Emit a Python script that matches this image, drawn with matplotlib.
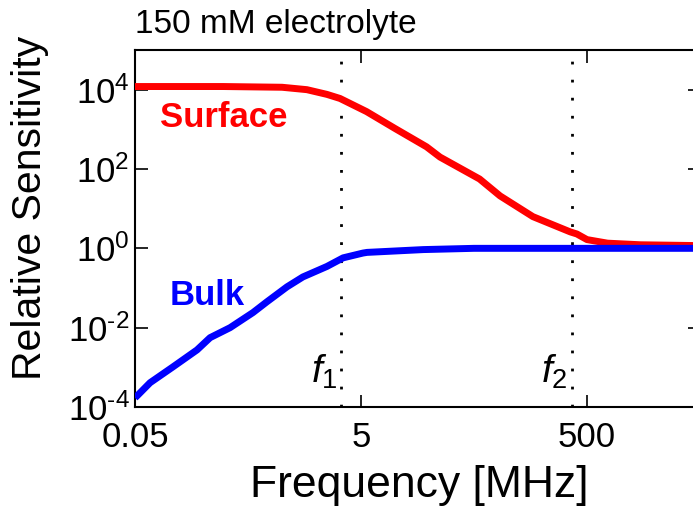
import numpy as np
import matplotlib
matplotlib.use("Agg")
import matplotlib.pyplot as plt

plt.rcParams['font.family'] = ['Liberation Sans', 'DejaVu Sans']
plt.rcParams['mathtext.fontset'] = 'custom'
plt.rcParams['mathtext.rm'] = 'Liberation Sans'
plt.rcParams['mathtext.it'] = 'Liberation Sans:italic'

# Data (frequency in MHz, relative sensitivity)
surface_f = [0.05, 0.3, 1.0, 1.66, 2.5, 3.26, 5.6, 10.0, 19.0, 25.0, 56.0, 85.0, 166.0, 355.0, 407.0, 500.0, 760.0, 1480.0, 5000.0]
surface_s = [1.2e4, 1.2e4, 1.15e4, 1.0e4, 7.6e3, 6.0e3, 2.8e3, 1.05e3, 363.0, 200.0, 56.0, 21.0, 6.3, 2.6, 2.3, 1.66, 1.35, 1.23, 1.17]

bulk_f = [0.05, 0.053, 0.068, 0.108, 0.177, 0.231, 0.347, 0.553, 0.736, 1.107, 1.53, 2.5, 3.47, 5.2, 5.65, 17.8, 50.0, 5000.0]
bulk_s = [1.7e-4, 2.0e-4, 4.1e-4, 1.02e-3, 2.75e-3, 5.6e-3, 1.0e-2, 2.4e-2, 4.5e-2, 0.107, 0.19, 0.35, 0.575, 0.76, 0.79, 0.93, 1.0, 1.0]

f1 = 3.33
f2 = 368.0

xticks = [0.05, 5, 500]
xticklabels = ['0.05', '5', '500']
yticks = [1e-4, 1e-2, 1e0, 1e2, 1e4]
yticklabels = [r'$10^{\text{-}4}$', r'$10^{\text{-}2}$', r'$10^{0}$', r'$10^{2}$', r'$10^{4}$']

fig = plt.figure(figsize=(6.93, 5.09), dpi=100)
ax = fig.add_axes([135/693, 1 - 407/509, 565/693, 357/509])

ax.plot(surface_f, surface_s, color='#ff0000', lw=5, solid_capstyle='butt', zorder=3)
ax.plot(bulk_f, bulk_s, color='#0000ff', lw=5, solid_capstyle='butt', zorder=3)
ax.axvline(f1, color='black', lw=2, linestyle=(0, (1, 5.5)), zorder=2)
ax.axvline(f2, color='black', lw=2, linestyle=(0, (1, 5.5)), zorder=2)

ax.set_xscale('log')
ax.set_yscale('log')
ax.set_xlim(0.05, 5000)
ax.set_ylim(1e-4, 1e5)

ax.set_xticks(xticks)
ax.set_xticklabels(xticklabels)
ax.set_yticks(yticks)
ax.set_yticklabels(yticklabels)
ax.minorticks_off()
ax.tick_params(which='major', direction='in', length=9, width=1.2,
               top=True, right=True, labelsize=25, colors='black')
ax.tick_params(axis='x', pad=10)
ax.tick_params(axis='y', pad=4)
for s in ax.spines.values():
    s.set_linewidth(1.5)

fig.text(419/693, 1 - 497/509, 'Frequency [MHz]', fontsize=32, ha='center', va='baseline')
fig.text(30/693, 1 - 208/509, 'Relative Sensitivity', fontsize=29.5, rotation=90,
         ha='center', va='center')

fig.text(160/693, 1 - 127/509, 'Surface', color='#ff0000',
         fontsize=25, fontweight='bold', ha='left', va='baseline')
fig.text(170/693, 1 - 305/509, 'Bulk', color='#0000ff',
         fontsize=25, fontweight='bold', ha='left', va='baseline')
fig.text(338/693, 1 - 383/509, r'$\mathit{f}_{\mathit{1}}$', fontsize=28, ha='right', va='baseline')
fig.text(568/693, 1 - 383/509, r'$\mathit{f}_{\mathit{2}}$', fontsize=28, ha='right', va='baseline')

fig.text(135/693, 1 - 33/509, '150 mM electrolyte', fontsize=24, ha='left', va='baseline')

fig.savefig('out.png', dpi=100)
